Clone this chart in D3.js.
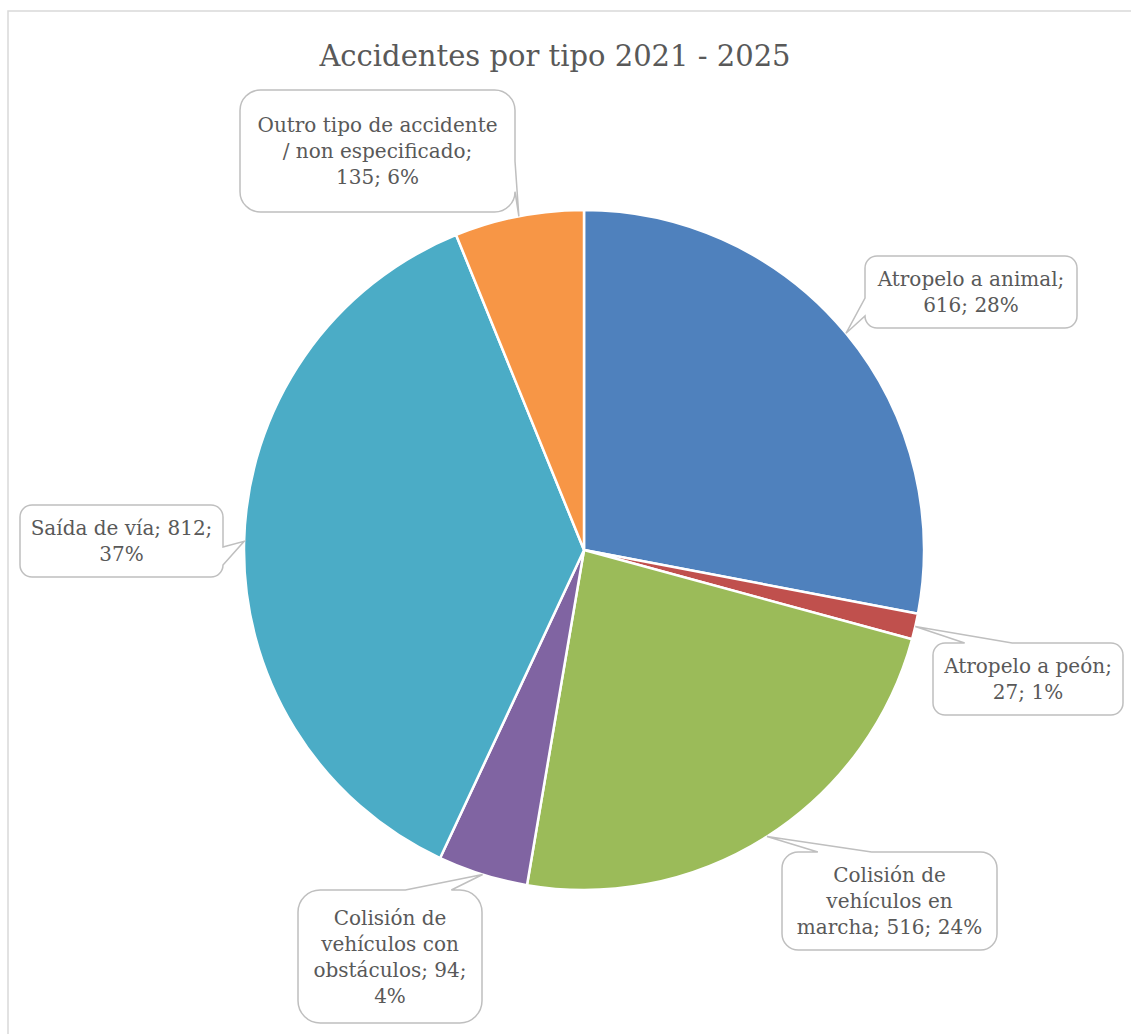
<!DOCTYPE html>
<html>
<head>
<meta charset="utf-8">
<script src="https://cdn.jsdelivr.net/npm/d3@7"></script>
<style>
  body { margin: 0; background: #fff; }
  svg { display: block; }
</style>
</head>
<body>
<script>
// chart values
const categories = [
  "Atropelo a animal",
  "Atropelo a peón",
  "Colisión de vehículos en marcha",
  "Colisión de vehículos con obstáculos",
  "Saída de vía",
  "Outro tipo de accidente / non especificado"
];
const values = [616, 27, 516, 94, 812, 135];
const percents = [28, 1, 24, 4, 37, 6];
const colors = ["#4F81BD", "#C0504D", "#9BBB59", "#8064A2", "#4BACC6", "#F79646"];
const title = "Accidentes por tipo 2021 - 2025";

// words per line in each data label, as wrapped in the picture
const lineWords = [
  [3, 2],
  [3, 2],
  [2, 2, 3],
  [2, 2, 2, 1],
  [4, 1],
  [4, 3, 2]
];

// callout boxes (layout only): x, y, w, h, side where the pointer leaves the box
const boxes = [
  {x: 865, y: 256, w: 212, h: 72, side: "left"},
  {x: 933, y: 643, w: 190, h: 72, side: "top"},
  {x: 782, y: 852, w: 215, h: 98, side: "top"},
  {x: 298, y: 890, w: 184, h: 133, side: "top"},
  {x: 20, y: 505, w: 203, h: 72, side: "right"},
  {x: 240, y: 90, w: 275, h: 122, side: "right"}
];

const width = 1131, height = 1034;
const cx = 584, cy = 550, radius = 340;
const textColor = "#595959";
const font = "'DejaVu Serif', serif";

const svg = d3.select("body").append("svg")
  .attr("width", width)
  .attr("height", height);

// chart area border (only left and top edges are in view)
svg.append("rect")
  .attr("x", 8).attr("y", 11)
  .attr("width", 1200).attr("height", 1200)
  .attr("fill", "#fff")
  .attr("stroke", "#d9d9d9")
  .attr("stroke-width", 1.5);

svg.append("text")
  .attr("x", 555).attr("y", 66)
  .attr("text-anchor", "middle")
  .style("font-family", font)
  .style("font-size", "29px")
  .style("fill", textColor)
  .text(title);

const data = values.map((v, i) => ({
  name: categories[i], value: v, pct: percents[i], color: colors[i],
  box: boxes[i], words: lineWords[i]
}));

const pie = d3.pie().sort(null).value(d => d.value);
const arcs = pie(data);

const arc = d3.arc().innerRadius(0).outerRadius(radius);
const edgeArc = d3.arc().innerRadius(radius).outerRadius(radius);

const g = svg.append("g").attr("transform", `translate(${cx},${cy})`);

g.selectAll("path")
  .data(arcs)
  .enter()
  .append("path")
  .attr("d", arc)
  .attr("fill", d => d.data.color)
  .attr("stroke", "#fff")
  .attr("stroke-width", 2.5)
  .attr("stroke-linejoin", "round");

// rounded box with a wedge pointing at the slice
function calloutPath(b, tip, side) {
  const r = Math.min(b.w, b.h) / 6;
  const x0 = b.x, y0 = b.y, x1 = b.x + b.w, y1 = b.y + b.h;
  const mx = b.x + b.w / 2, my = b.y + b.h / 2;
  const bx = tip[0] < mx ? [x0 + b.w / 6, x0 + 5 * b.w / 12] : [x0 + 7 * b.w / 12, x0 + 5 * b.w / 6];
  const by = tip[1] < my ? [y0 + b.h / 6, y0 + 5 * b.h / 12] : [y0 + 7 * b.h / 12, y0 + 5 * b.h / 6];
  const p = d3.path();
  p.moveTo(x0 + r, y0);
  if (side == "top") { p.lineTo(bx[0], y0); p.lineTo(tip[0], tip[1]); p.lineTo(bx[1], y0); }
  p.lineTo(x1 - r, y0);
  p.arcTo(x1, y0, x1, y0 + r, r);
  if (side == "right") { p.lineTo(x1, by[0]); p.lineTo(tip[0], tip[1]); p.lineTo(x1, by[1]); }
  p.lineTo(x1, y1 - r);
  p.arcTo(x1, y1, x1 - r, y1, r);
  if (side == "bottom") { p.lineTo(bx[1], y1); p.lineTo(tip[0], tip[1]); p.lineTo(bx[0], y1); }
  p.lineTo(x0 + r, y1);
  p.arcTo(x0, y1, x0, y1 - r, r);
  if (side == "left") { p.lineTo(x0, by[1]); p.lineTo(tip[0], tip[1]); p.lineTo(x0, by[0]); }
  p.lineTo(x0, y0 + r);
  p.arcTo(x0, y0, x0 + r, y0, r);
  p.closePath();
  return p.toString();
}

const labels = svg.append("g").attr("class", "labels");

arcs.forEach(a => {
  const b = a.data.box;
  const c = edgeArc.centroid(a);
  const tip = [cx + c[0], cy + c[1]];

  labels.append("path")
    .attr("d", calloutPath(b, tip, b.side))
    .attr("fill", "#fff")
    .attr("stroke", "#bfbfbf")
    .attr("stroke-width", 1.5);

  const t = labels.append("text")
    .attr("text-anchor", "middle")
    .style("font-family", font)
    .style("font-size", "20px")
    .style("fill", textColor);

  // split "name; value; pct%" into the lines seen in the picture
  const words = `${a.data.name}; ${a.data.value}; ${a.data.pct}%`.split(" ");
  const lines = [];
  let k = 0;
  a.data.words.forEach(n => {
    lines.push(words.slice(k, k + n).join(" "));
    k += n;
  });

  const lh = 26;
  const firstY = b.y + b.h / 2 - (lines.length - 1) * lh / 2 + 7;
  lines.forEach((l, i) => {
    t.append("tspan")
      .attr("x", b.x + b.w / 2)
      .attr("y", firstY + i * lh)
      .text(l);
  });
});
</script>
</body>
</html>
